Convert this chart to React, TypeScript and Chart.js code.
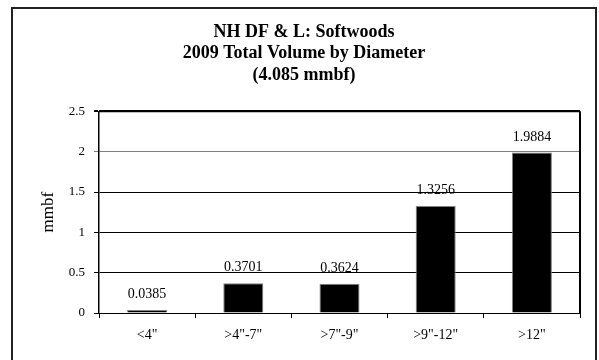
import React, { useEffect, useRef } from "react";
import { Chart, registerables } from "chart.js";

Chart.register(...registerables);

const categories = ['<4"', '>4"-7"', '>7"-9"', '>9"-12"', '>12"'];
const volumes = [0.0385, 0.3701, 0.3624, 1.3256, 1.9884];
const volumeLabels = ["0.0385", "0.3701", "0.3624", "1.3256", "1.9884"];
const titleLines = ["NH DF & L: Softwoods", "2009 Total Volume by Diameter", "(4.085 mmbf)"];
const yAxisTitle = "mmbf";
const yMin = 0;
const yMax = 2.5;
const yStep = 0.5;

const SERIF = "'Liberation Serif', 'Times New Roman', serif";

const labelPlugin = {
  id: "barValueLabels",
  afterDatasetsDraw(chart: any) {
    const ctx = chart.ctx;
    const meta = chart.getDatasetMeta(0);
    ctx.save();
    ctx.font = `14px ${SERIF}`;
    ctx.fillStyle = "#000";
    ctx.textAlign = "center";
    ctx.textBaseline = "alphabetic";
    meta.data.forEach((bar: any, i: number) => {
      ctx.fillText(volumeLabels[i], bar.x, bar.y - 12);
    });
    ctx.restore();
  },
};

const framePlugin = {
  id: "plotFrame",
  afterDraw(chart: any) {
    const { ctx, chartArea } = chart;
    ctx.save();
    ctx.strokeStyle = "#000";
    ctx.lineWidth = 2;
    ctx.beginPath();
    ctx.moveTo(chartArea.left, chartArea.top);
    ctx.lineTo(chartArea.right, chartArea.top);
    ctx.moveTo(chartArea.right, chartArea.top);
    ctx.lineTo(chartArea.right, chartArea.bottom);
    ctx.stroke();
    ctx.restore();
  },
};

export default function App() {
  const canvasRef = useRef<HTMLCanvasElement | null>(null);

  useEffect(() => {
    document.body.style.margin = "0";
    const canvas = canvasRef.current;
    if (!canvas) return;
    const chart = new Chart(canvas, {
      type: "bar",
      data: {
        labels: categories,
        datasets: [
          {
            data: volumes,
            backgroundColor: "#000000",
            borderColor: "#808080",
            borderWidth: 1,
            categoryPercentage: 1,
            barPercentage: 0.416,
          },
        ],
      },
      options: {
        animation: false,
        responsive: false,
        maintainAspectRatio: false,
        devicePixelRatio: 1,
        layout: { padding: { top: 0, right: 0, bottom: 0, left: 9 } },
        plugins: {
          legend: { display: false },
          tooltip: { enabled: false },
          title: {
            display: true,
            text: titleLines,
            color: "#000",
            font: { family: SERIF, size: 18, weight: "bold", lineHeight: 1.21 },
            padding: { top: 21, bottom: 25 },
          },
        },
        scales: {
          x: {
            grid: {
              display: true,
              drawOnChartArea: false,
              drawTicks: true,
              tickLength: 5,
              color: "#000",
              offset: true,
            },
            border: { display: true, color: "#000", width: 1 },
            ticks: {
              color: "#000",
              font: { family: SERIF, size: 14 },
              padding: 9,
              maxRotation: 0,
            },
            afterFit(scale: any) {
              scale.height = 47;
            },
          },
          y: {
            min: yMin,
            max: yMax,
            ticks: {
              stepSize: yStep,
              color: "#000",
              font: { family: SERIF, size: 13 },
              padding: 9,
              callback: (v: any) => String(v),
            },
            grid: {
              tickLength: 5,
              color: (c: any) => (c.tick && c.tick.value === 2 ? "#808080" : "#000"),
              lineWidth: (c: any) => (c.tick && c.tick.value === 2.5 ? 2 : 1),
            },
            border: { display: true, color: "#000", width: 1.5 },
            title: {
              display: true,
              text: yAxisTitle,
              color: "#000",
              font: { family: SERIF, size: 17 },
              padding: { top: 29, bottom: 0 },
            },
            afterFit(scale: any) {
              scale.width = 90;
            },
          },
          yRight: {
            position: "right",
            min: yMin,
            max: yMax,
            grid: { display: false },
            ticks: { display: false },
            border: { display: false },
            afterFit(scale: any) {
              scale.width = 19;
            },
          },
        },
      },
      plugins: [labelPlugin, framePlugin],
    });
    return () => chart.destroy();
  }, []);

  return (
    <div style={{ position: "relative", width: 599, height: 360, overflow: "hidden", background: "#fff" }}>
      <canvas ref={canvasRef} width={599} height={360} style={{ display: "block" }} />
      <div
        style={{
          position: "absolute",
          left: 11,
          top: 7,
          width: 586,
          height: 353,
          boxSizing: "border-box",
          borderLeft: "2px solid #222",
          borderTop: "2px solid #222",
          borderRight: "2px solid #222",
          pointerEvents: "none",
        }}
      />
    </div>
  );
}
